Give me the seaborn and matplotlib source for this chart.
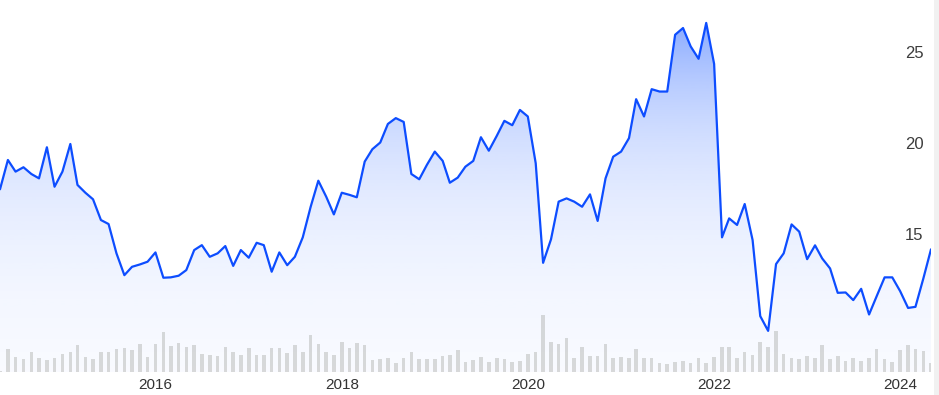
import numpy as np
import pandas as pd
import matplotlib
matplotlib.use("Agg")
import matplotlib.pyplot as plt
import matplotlib.dates as mdates
from matplotlib.patches import Rectangle
import seaborn as sns

# ---------------- data ----------------
start_month = "2014-05-01"
n_months = 121
price = [17.46, 19.07, 18.43, 18.67, 18.30, 18.06, 19.77, 17.60, 18.43, 19.95,
         17.70, 17.27, 16.91, 15.77, 15.55, 13.94, 12.74, 13.20, 13.33, 13.48,
         13.99, 12.60, 12.62, 12.71, 13.02, 14.12, 14.39, 13.75, 13.94, 14.34,
         13.25, 14.12, 13.70, 14.52, 14.39, 12.93, 13.99, 13.29, 13.75, 14.82,
         16.50, 17.93, 17.05, 16.08, 17.27, 17.15, 17.02, 18.98, 19.66, 20.03,
         21.05, 21.37, 21.16, 18.30, 18.01, 18.80, 19.53, 19.02, 17.82, 18.10,
         18.70, 19.02, 20.32, 19.58, 20.39, 21.22, 20.98, 21.82, 21.46, 18.89,
         13.42, 14.71, 16.78, 16.96, 16.78, 16.50, 17.18, 15.72, 18.06, 19.25,
         19.53, 20.27, 22.41, 21.46, 22.96, 22.83, 22.83, 25.95, 26.32, 25.31,
         24.63, 26.60, 24.35, 14.82, 15.86, 15.50, 16.65, 14.67, 10.49, 9.68,
         13.35, 13.94, 15.53, 15.13, 13.62, 14.38, 13.66, 13.11, 11.77, 11.79,
         11.37, 11.99, 10.58, 11.59, 12.62, 12.62, 11.86, 10.94, 11.00, 12.56,
         14.16]
volume = [1.3, 23.0, 15.0, 13.0, 19.7, 14.0, 11.7, 14.0, 18.3, 19.7,
          26.7, 15.0, 13.0, 20.3, 20.3, 23.0, 24.0, 22.3, 28.0, 15.0,
          28.0, 39.7, 25.7, 29.3, 25.3, 26.7, 18.3, 16.7, 15.7, 25.3,
          20.3, 17.0, 24.0, 17.0, 17.0, 24.0, 24.0, 19.0, 26.7, 20.3,
          36.7, 28.0, 19.7, 17.0, 30.3, 24.0, 29.3, 26.7, 11.7, 13.3,
          14.0, 9.0, 14.0, 20.3, 13.0, 13.0, 13.0, 15.7, 17.0, 21.7,
          10.3, 11.7, 15.0, 10.3, 14.0, 12.7, 10.3, 11.3, 18.0, 20.0,
          56.7, 30.0, 28.0, 34.0, 14.0, 25.0, 15.7, 16.3, 28.0, 14.0,
          15.0, 14.0, 22.7, 14.0, 14.0, 9.0, 8.0, 10.3, 11.3, 9.0,
          14.0, 9.0, 15.0, 25.3, 25.3, 14.0, 20.0, 17.0, 30.3, 25.0,
          41.3, 18.0, 14.0, 12.7, 16.3, 14.0, 26.7, 12.7, 16.3, 11.3,
          14.0, 11.3, 14.0, 23.0, 12.7, 10.3, 21.7, 26.7, 23.0, 21.3,
          9.0]
price_ticks = [15, 20, 25]

dates = pd.date_range(start_month, periods=n_months, freq="MS")
df = pd.DataFrame({"date": dates, "price": price, "volume": volume})

# ---------------- style ----------------
sns.set_theme(style="white")
plt.rcParams["font.family"] = ["Liberation Sans", "DejaVu Sans"]

W, H, DPI = 939, 395, 100
fig = plt.figure(figsize=(W / DPI, H / DPI), dpi=DPI, facecolor="white")
ax_w = 931 / W
ax_b = 23 / H
axv = fig.add_axes([0, ax_b, ax_w, 1 - ax_b])
ax = axv.twinx()

# right grey strip
fig.patches.append(Rectangle((934 / W, 0), 1 - 934 / W, 1, transform=fig.transFigure,
                             facecolor="#f1f1f1", edgecolor="none", zorder=0))

# ---------------- volume bars ----------------
axv.bar(df["date"], df["volume"], width=14, color="#dcdcd8", linewidth=0, zorder=1)
axv.set_ylim(0, max(volume) / 0.152)
axv.set_yticks([])

# ---------------- price line + gradient fill ----------------
ymin, ymax = 7.42, 27.86
ax.set_ylim(ymin, ymax)
x0, x1 = mdates.date2num(dates[0]), mdates.date2num(dates[-1])
ax.set_xlim(dates[0], dates[-1])

poly = ax.fill_between(df["date"], df["price"], ymin, facecolor="none", edgecolor="none")
ngrad = 256
t = np.linspace(0, 1, ngrad)  # 0 bottom -> 1 top
alpha = np.clip(0.44 * np.exp(3.1 * (t - 0.866)), 0, 0.62)
rgba = np.zeros((ngrad, 1, 4))
rgba[..., 0] = 40 / 255
rgba[..., 1] = 100 / 255
rgba[..., 2] = 1.0
rgba[:, 0, 3] = alpha
img = ax.imshow(rgba, extent=[x0, x1, ymin, ymax], origin="lower", aspect="auto",
                zorder=1, interpolation="bilinear")
img.set_clip_path(poly.get_paths()[0], transform=ax.transData)
ax.set_xlim(dates[0], dates[-1])
ax.set_ylim(ymin, ymax)

sns.lineplot(data=df, x="date", y="price", ax=ax, color="#0d4dff", linewidth=1.6, zorder=3)
ax.set_xlabel("")
ax.set_ylabel("")

# ---------------- axes / ticks ----------------
ax.set_yticks(price_ticks)
ax.yaxis.tick_right()
ax.tick_params(axis="y", length=0, pad=-18.7, labelsize=12, labelcolor="#3c3c3c")
for lab in ax.get_yticklabels():
    lab.set_horizontalalignment("left")

axv.xaxis.set_major_locator(mdates.YearLocator(2))
axv.xaxis.set_major_formatter(mdates.DateFormatter("%Y"))
axv.tick_params(axis="x", length=0, pad=4, labelsize=11, labelcolor="#333333")
ax.tick_params(axis="x", length=0)

for a in (ax, axv):
    for s in a.spines.values():
        s.set_visible(False)
    a.grid(False)
axv.set_facecolor("none")
ax.set_facecolor("none")

fig.savefig("out.png", dpi=DPI, facecolor="white")
